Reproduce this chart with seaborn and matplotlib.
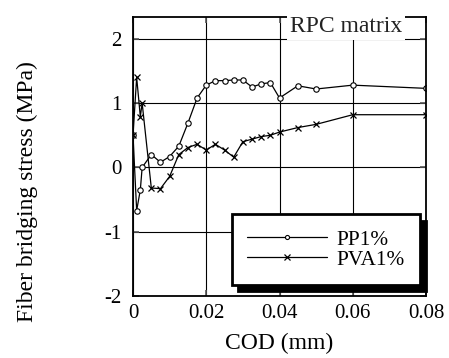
import matplotlib
matplotlib.use("Agg")
import matplotlib.pyplot as plt
import seaborn as sns
import pandas as pd

# ---- data ----
cod = [0, 0.001, 0.002, 0.0025, 0.005, 0.0075, 0.01, 0.0125, 0.015, 0.0175,
       0.02, 0.0225, 0.025, 0.0275, 0.03, 0.0325, 0.035, 0.0375, 0.04,
       0.045, 0.05, 0.06, 0.08]
pp1 = [0.5, -0.67, -0.35, 0.0, 0.2, 0.08, 0.17, 0.33, 0.69, 1.08,
       1.28, 1.35, 1.35, 1.36, 1.36, 1.25, 1.30, 1.32, 1.08,
       1.27, 1.22, 1.28, 1.23]
pva1 = [0.5, 1.40, 0.79, 1.0, -0.32, -0.33, -0.14, 0.20, 0.31, 0.36,
        0.27, 0.36, 0.27, 0.16, 0.40, 0.44, 0.48, 0.50, 0.55,
        0.62, 0.67, 0.82, 0.82]
series_names = ["PP1%", "PVA1%"]
xticks = [0, 0.02, 0.04, 0.06, 0.08]
xticklabels = ["0", "0.02", "0.04", "0.06", "0.08"]
yticks = [-2, -1, 0, 1, 2]
yticklabels = ["-2", "-1", "0", "1", "2"]

sns.set_theme(style="white")
plt.rcParams["font.family"] = ["Liberation Serif", "DejaVu Serif"]

fig = plt.figure(figsize=(4.49, 3.58), dpi=100)
ax = fig.add_axes([133 / 449, 1 - 296 / 358, 293 / 449, 279 / 358])

df = pd.DataFrame({"cod": cod, "PP1%": pp1, "PVA1%": pva1})

sns.lineplot(data=df, x="cod", y="PP1%", ax=ax, color="black", lw=0.9,
             marker="o", markersize=3.9, markerfacecolor="white",
             markeredgecolor="black", markeredgewidth=0.8,
             estimator=None, label=series_names[0])
sns.lineplot(data=df, x="cod", y="PVA1%", ax=ax, color="black", lw=0.9,
             marker="x", markersize=5, markeredgewidth=0.9,
             markeredgecolor="black", markerfacecolor="black",
             estimator=None, label=series_names[1])

ax.set_xlim(0, 0.08)
ax.set_ylim(-2, 2.34)
ax.set_xticks(xticks)
ax.set_xticklabels(xticklabels)
ax.set_yticks(yticks)
ax.set_yticklabels(yticklabels)
ax.grid(True, color="black", lw=0.8)
ax.set_axisbelow(True)

for s in ax.spines.values():
    s.set_color("black")
    s.set_linewidth(1.3)

ax.tick_params(axis="both", which="both", direction="in", length=4,
               width=1.2, color="#555555", labelsize=15,
               top=True, right=True, bottom=True, left=True,
               labelcolor="black")
ax.tick_params(axis="x", pad=6)
ax.tick_params(axis="y", pad=8)

ax.set_xlabel("COD (mm)", fontsize=17, color="black")
ax.set_ylabel("Fiber bridging stress (MPa)", fontsize=17, color="black")
ax.xaxis.set_label_coords(0.5, -0.133)
ax.yaxis.set_label_coords(-0.325, 0.373)

ax.text(0.727, 0.966, "RPC matrix", transform=ax.transAxes, ha="center",
        va="center", fontsize=17, color="#222222",
        bbox=dict(facecolor="white", edgecolor="none", pad=2.0), zorder=5)

leg = ax.legend(loc="lower right", bbox_to_anchor=(0.98, 0.04),
                fontsize=15.3, frameon=True, fancybox=False,
                shadow={"ox": 4.5, "oy": -4.5, "color": "black", "alpha": 1},
                handlelength=3.75, handletextpad=0.47, labelspacing=0.0,
                borderpad=0.72, borderaxespad=0, numpoints=1,
                markerscale=0.75)
leg.get_frame().set_edgecolor("black")
leg.get_frame().set_linewidth(2)
leg.get_frame().set_facecolor("white")
leg.set_zorder(6)
for t in leg.get_texts():
    t.set_color("black")

fig.savefig("out.png", dpi=100)
